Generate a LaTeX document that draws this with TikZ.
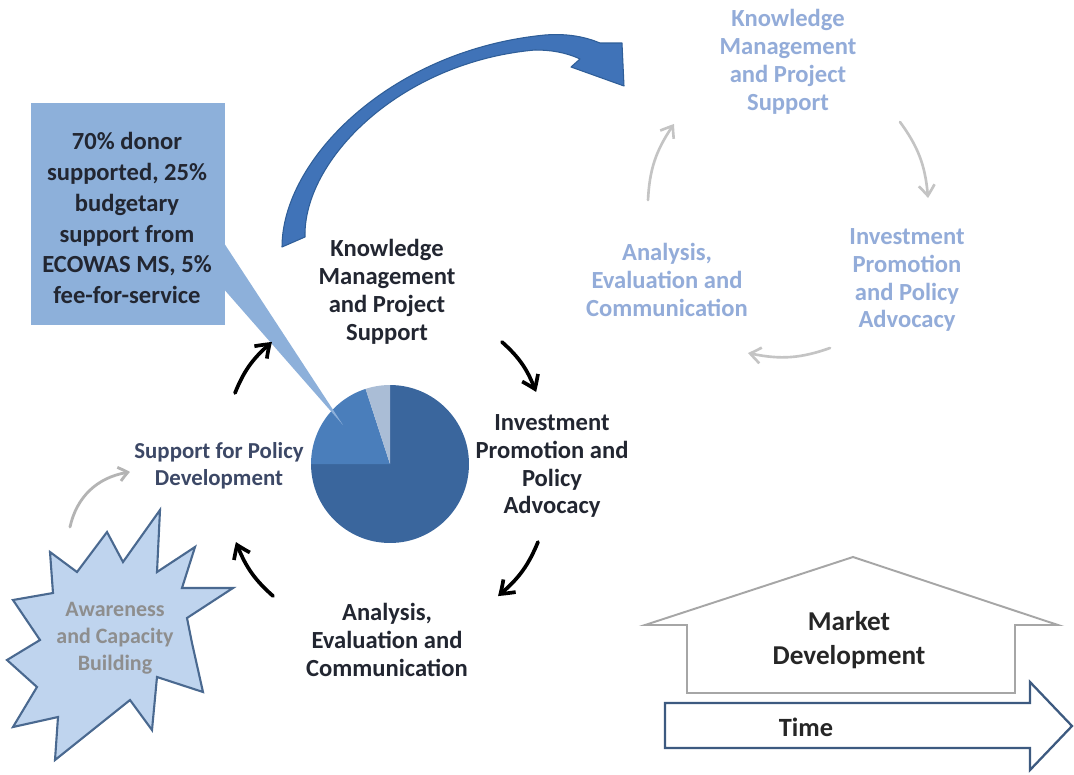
\documentclass[tikz,border=0pt]{standalone}
\usepackage{fontspec}
\setmainfont{Carlito}
\usetikzlibrary{arrows.meta,bending}
\definecolor{txt}{HTML}{222631}
\definecolor{faded}{HTML}{93ACD9}
\definecolor{piedark}{HTML}{3A669D}
\definecolor{piemed}{HTML}{4A7EBB}
\definecolor{pielight}{HTML}{AABDD6}
\definecolor{calloutfill}{HTML}{8DB0DA}
\definecolor{bigarrow}{HTML}{4073B8}
\definecolor{bigarrowline}{HTML}{2F5E98}
\definecolor{starfill}{HTML}{BFD4EE}
\definecolor{starline}{HTML}{4A6990}
\definecolor{policytxt}{HTML}{3C4866}
\definecolor{startxt}{HTML}{8E8E8E}
\definecolor{timeline}{HTML}{3D5A80}
\definecolor{houseline}{HTML}{A6A6A6}
\definecolor{fadearrow}{HTML}{C4C4C4}
\definecolor{grayarrow}{HTML}{B4B4B4}
\tikzset{
  lbl/.style={font=\bfseries\fontsize{14pt}{15.9pt}\selectfont, text=txt, align=center, inner sep=0pt},
  fadedlbl/.style={lbl, text=faded},
  calloutlbl/.style={font=\bfseries\fontsize{14pt}{17.6pt}\selectfont, text=txt, align=center, inner sep=0pt},
  policylbl/.style={font=\bfseries\fontsize{13pt}{15.4pt}\selectfont, text=policytxt, align=center, inner sep=0pt},
  starlbl/.style={font=\bfseries\fontsize{12.5pt}{15.4pt}\selectfont, text=startxt, align=center, inner sep=0pt},
  marketlbl/.style={font=\bfseries\fontsize{15.5pt}{19.6pt}\selectfont, text=black!85, align=center, inner sep=0pt},
  cyclearrow/.style={line width=2.1pt, line cap=round, black, bend left=14,
    -{Straight Barb[length=7pt,width=10pt,bend]}},
  fadedarrow/.style={line width=1.5pt, line cap=round, fadearrow, bend left=16,
    -{Straight Barb[length=6pt,width=9pt,bend]}},
  grayarrowstyle/.style={line width=1.6pt, line cap=round, grayarrow, bend left=35,
    -{Straight Barb[length=5pt,width=8pt,bend]}},
  calloutbox/.style={fill=calloutfill, minimum width=3.88cm, minimum height=4.44cm, inner sep=0pt}
}
\begin{document}
\begin{tikzpicture}[x=0.02cm, y=-0.02cm]
\useasboundingbox (0,0) rectangle (1074,774);
\fill[white] (0,0) rectangle (1074,774);

% big curved arrow
\filldraw[fill=bigarrow, draw=bigarrowline, line width=0.6pt, line join=round]
  (282,247) .. controls (282,160) and (390,50) .. (545,35)
  .. controls (570,33) and (588,38) .. (600,43)
  -- (622,43) -- (624,86) -- (571,67) -- (580,59)
  .. controls (565,52) and (550,50) .. (535,50)
  .. controls (400,62) and (303,160) .. (305,237) -- cycle;

% pie
\coordinate (pc) at (390,464);
\fill[piedark] (pc) -- ++(180:1.58cm) arc[start angle=180, end angle=450, radius=1.58cm] -- cycle;
\fill[piemed] (pc) -- ++(108:1.58cm) arc[start angle=108, end angle=180, radius=1.58cm] -- cycle;
\fill[pielight] (pc) -- ++(90:1.58cm) arc[start angle=90, end angle=108, radius=1.58cm] -- cycle;

% callout
\fill[calloutfill] (222,240) -- (343,425) -- (222,287) -- cycle;
\node[calloutbox] (cbox) at (128,214) {};
\node[calloutlbl] (ctext) at (127,218) {70\% donor\\supported, 25\%\\budgetary\\support from\\ECOWAS MS, 5\%\\fee-for-service};

% main cycle labels
\node[lbl] (km) at (387,292) {Knowledge\\Management\\and Project\\Support};
\node[lbl] (inv) at (552,466) {Investment\\Promotion and\\Policy\\Advocacy};
\node[lbl] (ana) at (387,640) {Analysis,\\Evaluation and\\Communication};
\node[policylbl] (pol) at (219,466) {Support for Policy\\Development};

% main cycle arrows
\coordinate (a1s) at (235,393); \coordinate (a1e) at (272,342);
\coordinate (a2s) at (502,342); \coordinate (a2e) at (536,392);
\coordinate (a3s) at (538,542); \coordinate (a3e) at (498,596);
\coordinate (a4s) at (273,596); \coordinate (a4e) at (236,542);
\draw[cyclearrow] (a1s) to (a1e);
\draw[cyclearrow] (a2s) to (a2e);
\draw[cyclearrow] (a3s) to (a3e);
\draw[cyclearrow] (a4s) to (a4e);

% star
\filldraw[fill=starfill, draw=starline, line width=1.2pt, line join=miter]
  (160,510) -- (157,572) -- (195,547) -- (182,588) -- (233,588) -- (187,618) -- (192,643)
  -- (203,692) -- (157,677) -- (152,730) -- (130,700) -- (55,760) -- (58,717) -- (13,727)
  -- (37,687) -- (7,660) -- (40,640) -- (13,600) -- (53,593) -- (50,552) -- (77,572)
  -- (107,532) -- (123,562) -- cycle;
\node[starlbl] (star) at (115,638) {Awareness\\and Capacity\\Building};
\coordinate (g1s) at (70,527); \coordinate (g1e) at (130,472);
\draw[grayarrowstyle] (g1s) to (g1e);

% faded cycle
\node[fadedlbl] (fkm) at (788,62) {Knowledge\\Management\\and Project\\Support};
\node[fadedlbl] (finv) at (907,280) {Investment\\Promotion\\and Policy\\Advocacy};
\node[fadedlbl] (fana) at (667,280) {Analysis,\\Evaluation and\\Communication};
\coordinate (f1s) at (648,200); \coordinate (f1e) at (674,124);
\coordinate (f2s) at (900,122); \coordinate (f2e) at (928,198);
\coordinate (f3s) at (830,348); \coordinate (f3e) at (748,353);
\draw[fadedarrow] (f1s) to (f1e);
\draw[fadedarrow] (f2s) to (f2e);
\draw[fadedarrow] (f3s) to (f3e);

% market development house
\draw[houseline, fill=white, line width=1.1pt, line join=miter]
  (687,693) -- (687,625) -- (645,625) -- (853,557) -- (1058,625) -- (1015,625) -- (1015,693) -- cycle;
\node[marketlbl] (mkt) at (849,640) {Market\\Development};

% time arrow
\draw[timeline, fill=white, line width=1.3pt, line join=miter]
  (665,703) -- (1030,703) -- (1030,682) -- (1072,726) -- (1030,770) -- (1030,748) -- (665,748) -- cycle;
\node[marketlbl, font=\bfseries\fontsize{15pt}{18pt}\selectfont] (time) at (806,727) {Time};
\end{tikzpicture}
\end{document}
